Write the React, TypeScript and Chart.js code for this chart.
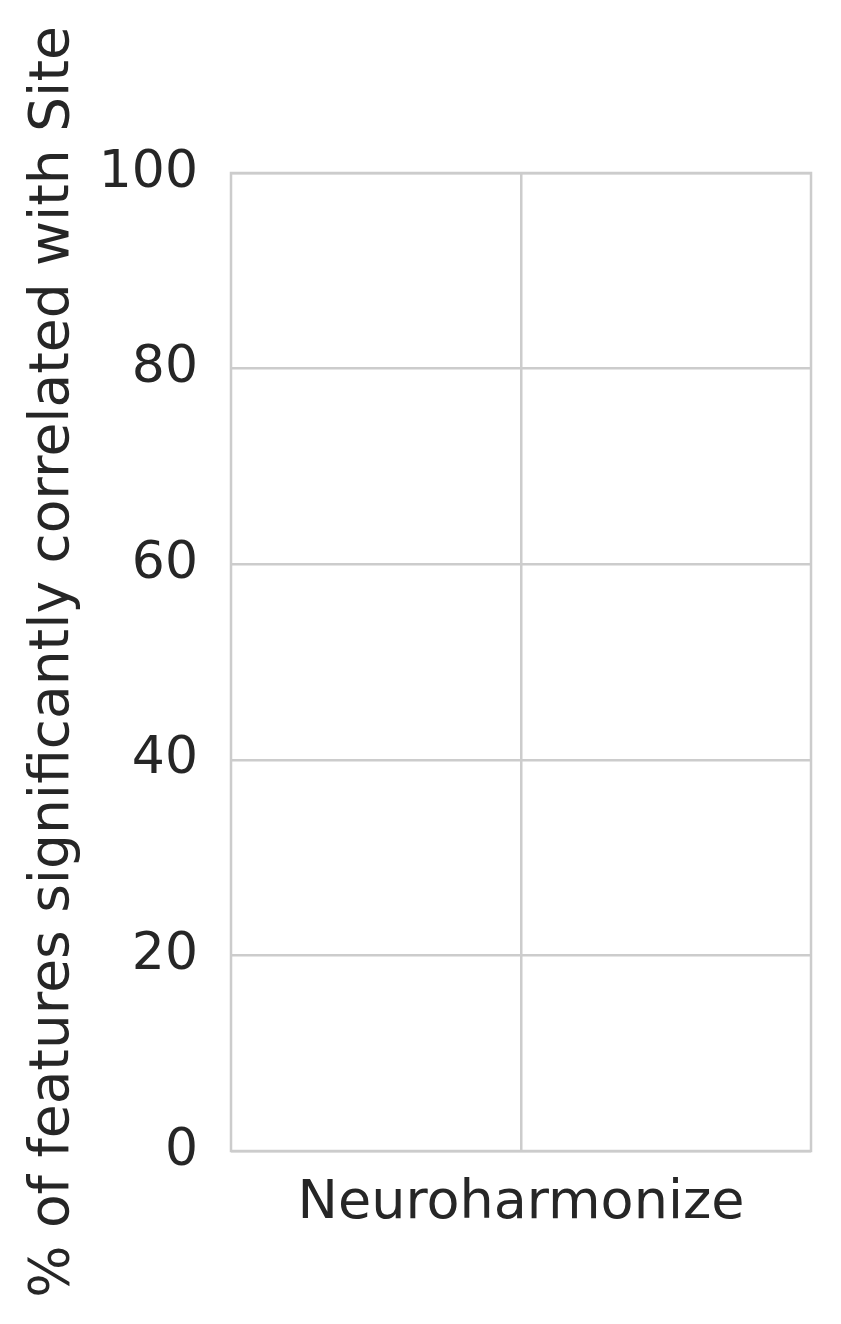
import React, { useEffect, useRef } from "react";
import { Chart, registerables } from "chart.js";

Chart.register(...registerables);

const categories: string[] = ["Neuroharmonize"];
const percentValues: number[] = [0];
const yTicks: number[] = [0, 20, 40, 60, 80, 100];
const yTitle = "% of features significantly correlated with Site";

const GRID = "#cccccc";
const TEXT = "#262626";
const FONT = "'DejaVu Sans', sans-serif";

const borderPlugin = {
  id: "frameBorder",
  afterDraw(chart: any) {
    const { ctx, chartArea } = chart;
    ctx.save();
    ctx.strokeStyle = GRID;
    ctx.lineWidth = 2.5;
    ctx.strokeRect(chartArea.left, chartArea.top, chartArea.right - chartArea.left, chartArea.bottom - chartArea.top);
    ctx.restore();
  },
};

export default function App() {
  const ref = useRef<HTMLCanvasElement | null>(null);
  useEffect(() => {
    document.body.style.margin = "0";
    if (!ref.current) return;
    const chart = new Chart(ref.current, {
      type: "bar",
      data: {
        labels: categories,
        datasets: [
          {
            label: "Site",
            data: percentValues,
            backgroundColor: "#4c72b0",
          },
        ],
      },
      options: {
        responsive: false,
        animation: false,
        maintainAspectRatio: false,
        layout: { padding: { top: 173, right: 30, left: 0, bottom: 0 } },
        plugins: { legend: { display: false }, tooltip: { enabled: false } },
        scales: {
          x: {
            offset: true,
            grid: { offset: false, color: GRID, lineWidth: 2.5, drawTicks: false },
            border: { display: false },
            ticks: { color: TEXT, font: { family: FONT, size: 54 }, padding: 21 },
            afterFit(scale: any) {
              scale.height = 173;
            },
          },
          y: {
            min: 0,
            max: 100,
            afterBuildTicks(scale: any) {
              scale.ticks = yTicks.map((v) => ({ value: v }));
            },
            grid: { color: GRID, lineWidth: 2.5, drawTicks: false },
            border: { display: false },
            ticks: { color: TEXT, font: { family: FONT, size: 52 }, padding: 33 },
            title: {
              display: true,
              text: yTitle,
              color: TEXT,
              font: { family: FONT, size: 55 },
              padding: { top: 21, bottom: 0 },
            },
            afterFit(scale: any) {
              scale.width = 231;
            },
          },
        },
      },
      plugins: [borderPlugin],
    });
    return () => chart.destroy();
  }, []);
  return (
    <div style={{ width: 841, height: 1324, background: "#fff" }}>
      <canvas ref={ref} width={841} height={1324} style={{ display: "block" }} />
    </div>
  );
}
